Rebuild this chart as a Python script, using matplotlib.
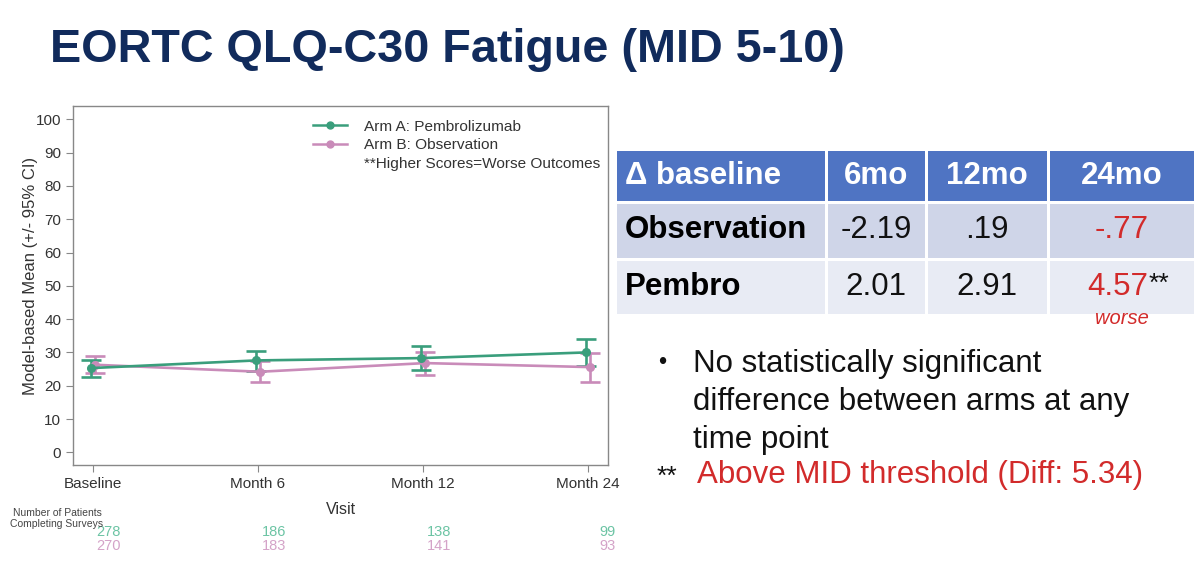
import numpy as np
import matplotlib
matplotlib.use("Agg")
import matplotlib.pyplot as plt
from matplotlib.patches import Rectangle
from matplotlib.lines import Line2D
from matplotlib.transforms import blended_transform_factory

plt.rcParams['font.family'] = ['Liberation Sans', 'DejaVu Sans']

# ---------------- data ----------------
visits = ["Baseline", "Month 6", "Month 12", "Month 24"]
pembro_mean = [25.3, 27.6, 28.3, 30.0]
pembro_lo = [22.7, 24.4, 24.7, 25.9]
pembro_hi = [27.8, 30.5, 31.9, 34.1]
obs_mean = [26.3, 24.2, 26.8, 25.6]
obs_lo = [23.7, 21.2, 23.1, 21.2]
obs_hi = [28.9, 27.3, 30.1, 29.8]
n_pembro = [278, 186, 138, 99]
n_obs = [270, 183, 141, 93]

tbl_header = ["\u0394 baseline", "6mo", "12mo", "24mo"]
tbl_rows = ["Observation", "Pembro"]
tbl_obs = ["-2.19", ".19", "-.77"]
tbl_pembro = ["2.01", "2.91", "4.57"]

bullet_lines = ["No statistically significant",
                "difference between arms at any",
                "time point"]
note_text = "Above MID threshold (Diff: 5.34)"

GREEN = "#3a9e7c"
PINK = "#c98bb9"
NAVY = "#112b5c"
RED = "#d22b2b"

fig = plt.figure(figsize=(12, 5.63), dpi=100)

# overlay in pixel coords for title / table / notes
ov = fig.add_axes([0, 0, 1, 1])
ov.set_xlim(0, 1200)
ov.set_ylim(563, 0)
ov.axis("off")

ov.text(50, 62, "EORTC QLQ-C30 Fatigue (MID 5-10)", fontsize=33.7, fontweight="bold",
        color=NAVY, va="baseline", ha="left")

# ---------------- chart ----------------
ax = fig.add_axes([73 / 1200, (563 - 465) / 563, (608 - 73) / 1200, (465 - 106) / 563])
x = np.arange(len(visits))
dodge = 0.012

pm = np.array(pembro_mean)
om = np.array(obs_mean)
ax.errorbar(x + dodge, om, yerr=[om - np.array(obs_lo), np.array(obs_hi) - om],
            color=PINK, lw=1.9, marker="o", ms=5.5, capsize=7, capthick=1.9, elinewidth=1.9)
ax.errorbar(x - dodge, pm, yerr=[pm - np.array(pembro_lo), np.array(pembro_hi) - pm],
            color=GREEN, lw=1.9, marker="o", ms=5.5, capsize=7, capthick=1.9, elinewidth=1.9)

ax.set_xlim(-0.121, 3.121)
ax.set_ylim(-3.8, 104)
ax.set_yticks(range(0, 101, 10))
ax.set_xticks(x)
ax.set_xticklabels(visits)
for s in ax.spines.values():
    s.set_color("#888888")
    s.set_linewidth(1)
ax.tick_params(colors="#888888", labelcolor="#333333", labelsize=11, length=5)
ax.set_ylabel("Model-based Mean (+/- 95% CI)", fontsize=12, color="#333333", va="center")
ax.yaxis.set_label_coords(-0.08, 0.526)
ax.set_xlabel("Visit", fontsize=11.5, color="#333333", labelpad=8)

handles = [Line2D([], [], color=GREEN, lw=1.8, marker="o", ms=5),
           Line2D([], [], color=PINK, lw=1.8, marker="o", ms=5),
           Line2D([], [], color="none")]
labels = ["Arm A: Pembrolizumab", "Arm B: Observation", "**Higher Scores=Worse Outcomes"]
ax.legend(handles, labels, loc="upper right", frameon=False, fontsize=11.1,
          handlelength=2.2, handletextpad=1.1, labelspacing=0.28,
          bbox_to_anchor=(1.012, 1.0), labelcolor="#333333")

# patient counts under the axis
tr = blended_transform_factory(ax.transData, ov.transData)
for i in range(len(visits)):
    ov.text(i + 0.17, 532.5, str(n_pembro[i]), transform=tr, ha="right", va="center",
            fontsize=10.5, color="#6cc4a4")
    ov.text(i + 0.17, 546.5, str(n_obs[i]), transform=tr, ha="right", va="center",
            fontsize=10.5, color="#d4a3c8")
ov.text(57, 513, "Number of Patients", ha="center", va="center", fontsize=7.5, color="#444444")
ov.text(57, 524, "Completing Surveys", ha="center", va="center", fontsize=7.5, color="#444444")

# ---------------- table ----------------
col_edges = [615, 826, 926, 1048, 1195]
row_edges = [149, 202, 259, 315]
row_colors = ["#4f74c3", "#cfd5e8", "#e8ebf4"]
gap = 1.5
for r in range(3):
    for c in range(4):
        ov.add_patch(Rectangle((col_edges[c] + gap, row_edges[r] + gap),
                               col_edges[c + 1] - col_edges[c] - 2 * gap,
                               row_edges[r + 1] - row_edges[r] - 2 * gap,
                               facecolor=row_colors[r], edgecolor="none"))


def cell_center(r, c):
    return (col_edges[c] + col_edges[c + 1]) / 2, (row_edges[r] + row_edges[r + 1]) / 2


for c, h in enumerate(tbl_header):
    cx, cy = cell_center(0, c)
    if c == 0:
        ov.text(625, cy, h, ha="left", va="center", fontsize=22.5, fontweight="bold", color="white")
    else:
        ov.text(cx, cy, h, ha="center", va="center", fontsize=22.5, fontweight="bold", color="white")

for r, (name, vals) in enumerate(zip(tbl_rows, [tbl_obs, tbl_pembro])):
    cy = cell_center(r + 1, 0)[1]
    ov.text(625, cy, name, ha="left", va="center", fontsize=22.5, fontweight="bold", color="black")
    for c, v in enumerate(vals):
        cx = cell_center(r + 1, c + 1)[0]
        col = RED if c == 2 else "#111111"
        if r == 1 and c == 2:
            ov.text(cx + 27, cy, v, ha="right", va="center", fontsize=22.5, color=col)
            ov.text(cx + 27, cy - 3, "**", ha="left", va="center", fontsize=19, color="#111111")
        else:
            ov.text(cx, cy, v, ha="center", va="center", fontsize=22.5, color=col)

cx = cell_center(2, 3)[0]
ov.text(cx, 318, "worse", ha="center", va="center", fontsize=14.5, style="italic", color=RED)

# ---------------- notes ----------------
ov.text(662, 363, "\u2022", ha="center", va="center", fontsize=17, color="#111111")
for i, line in enumerate(bullet_lines):
    ov.text(693, 364 + i * 38, line, ha="left", va="center", fontsize=22.5, color="#111111")
ov.text(657, 477, "**", ha="left", va="center", fontsize=19, color="#111111")
ov.text(697, 475, note_text, ha="left", va="center", fontsize=22.5, color=RED)

fig.savefig("out.png", dpi=100)
